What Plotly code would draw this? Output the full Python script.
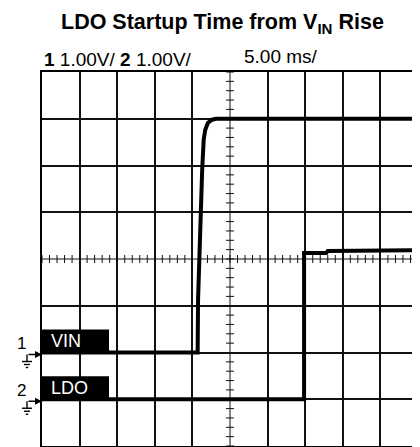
import plotly.graph_objects as go

# ---- data (time in ms, voltage in V) ----
vin_time_ms = [0, 20.7, 20.75, 20.9, 21.1, 21.3, 21.5, 21.7, 22.05, 22.6, 23.15, 50]
vin_volts = [0.0, 0.0, 1.12, 1.98, 3.05, 3.91, 4.55, 4.76, 4.91, 4.98, 5.0, 5.0]
ldo_time_ms = [0, 34.85, 34.85, 37.8, 38.0, 46.6, 46.8, 50]
ldo_volts = [0.0, 0.0, 3.13, 3.13, 3.17, 3.17, 3.19, 3.19]

channel_names = ["VIN", "LDO"]
channel_offsets_div = [-2, -3]   # ground marker position (divisions from centre)
volts_per_div = [1.0, 1.0]
ms_per_div = 5.0
header_left = "<b>1</b> 1.00V/ <b>2</b> 1.00V/"
header_right = "5.00 ms/"
title_text = "<b>LDO Startup Time from V<sub>IN</sub> Rise</b>"

FONT = "Liberation Sans, Arial, Helvetica, sans-serif"
# page has an 8px body margin, so the figure is laid out 8px smaller
OFF = 8
W, H = 420 - OFF, 447 - OFF
ML, MT = 42 - OFF, 72 - OFF
PW, PH = 376, 374
MR, MB = W - ML - PW, H - MT - PH
X0, X1 = 0, 10 * ms_per_div
Y0, Y1 = -4, 4


def pxp(dx):  # pixels -> paper x
    return dx / PW


def pyp(dy):  # pixels -> paper y
    return dy / PH


def div_to_paper_y(d):
    return (d - Y0) / (Y1 - Y0)


fig = go.Figure()

# centre graticule lines with minor ticks
tx, ty = [X0, X1, None, 25, 25, None], [0, 0, None, Y0, Y1, None]
htick = 4 / (PH / (Y1 - Y0))
vtick = 4 / (PW / (X1 - X0))
for i in range(0, 51):
    t = i * ms_per_div / 5
    tx += [t, t, None]
    ty += [-htick, htick, None]
for i in range(0, 41):
    d = Y0 + i * 0.2
    tx += [25 - vtick, 25 + vtick, None]
    ty += [d, d, None]
fig.add_trace(go.Scatter(x=tx, y=ty, mode="lines", line=dict(color="#111", width=1),
                         hoverinfo="skip", showlegend=False))

series = [(vin_time_ms, vin_volts), (ldo_time_ms, ldo_volts)]
for (t, v), name, off, vpd in zip(series, channel_names, channel_offsets_div, volts_per_div):
    fig.add_trace(go.Scatter(x=t, y=[val / vpd + off for val in v], mode="lines", name=name,
                             line=dict(color="black", width=4), showlegend=False))

shapes = []
annotations = []
box_w_ms = 67 / (PW / (X1 - X0))
box_h_div = 23 / (PH / (Y1 - Y0))
for k, (name, off) in enumerate(zip(channel_names, channel_offsets_div)):
    # black label box
    shapes.append(dict(type="rect", xref="x", yref="y", x0=X0, x1=X0 + box_w_ms,
                       y0=off - 0.03, y1=off + box_h_div, fillcolor="black", line=dict(width=0)))
    annotations.append(dict(xref="x", yref="y", x=X0 + 7 / (PW / (X1 - X0)), y=off + box_h_div / 2,
                            text=name, showarrow=False, xanchor="left", yanchor="middle",
                            font=dict(family=FONT, size=18, color="white")))
    py_ = div_to_paper_y(off)
    # channel number
    annotations.append(dict(xref="paper", yref="paper", x=pxp(-21), y=py_ + pyp(9),
                            text=str(k + 1), showarrow=False, xanchor="center", yanchor="middle",
                            font=dict(family=FONT, size=17, color="black")))
    # ground arrow
    annotations.append(dict(xref="paper", yref="paper", x=0, y=py_ - pyp(2), text="",
                            showarrow=True, ax=-15, ay=0, arrowhead=2, arrowsize=1,
                            arrowwidth=1.4, arrowcolor="black", standoff=0))
    gx = pxp(-15)
    shapes.append(dict(type="line", xref="paper", yref="paper", x0=gx, x1=gx,
                       y0=py_ - pyp(2), y1=py_ - pyp(9), line=dict(color="black", width=1.4)))
    for j, half in enumerate([5, 3, 1.2]):
        yy = py_ - pyp(9 + 3 * j)
        shapes.append(dict(type="line", xref="paper", yref="paper", x0=gx - pxp(half),
                           x1=gx + pxp(half), y0=yy, y1=yy, line=dict(color="black", width=1.4)))

annotations.append(dict(xref="paper", yref="paper", x=pxp(222 - 42), y=1 + pyp(72 - 24),
                        text=title_text, showarrow=False, xanchor="center", yanchor="middle",
                        font=dict(family=FONT, size=21.5, color="black")))
annotations.append(dict(xref="paper", yref="paper", x=pxp(0), y=1 + pyp(72 - 59),
                        text=header_left, showarrow=False, xanchor="left", yanchor="middle",
                        font=dict(family=FONT, size=19, color="black")))
annotations.append(dict(xref="paper", yref="paper", x=pxp(242 - 42), y=1 + pyp(72 - 56),
                        text=header_right, showarrow=False, xanchor="left", yanchor="middle",
                        font=dict(family=FONT, size=19, color="black")))

fig.update_layout(
    width=W, height=H, margin=dict(l=ML, r=MR, t=MT, b=MB),
    paper_bgcolor="white", plot_bgcolor="white",
    shapes=shapes, annotations=annotations,
    xaxis=dict(range=[X0, X1], tickvals=[v * ms_per_div for v in [1, 2, 3, 4, 6, 7, 8, 9]],
               showticklabels=False, ticks="", showgrid=True, gridcolor="#111", gridwidth=2,
               zeroline=False, showline=True, linecolor="black", linewidth=2, mirror=True),
    yaxis=dict(range=[Y0, Y1], tickvals=[-3, -2, -1, 1, 2, 3], showticklabels=False, ticks="",
               showgrid=True, gridcolor="#111", gridwidth=1.6, zeroline=False,
               showline=True, linecolor="black", linewidth=2, mirror=True),
)
fig.write_html("out.html")
